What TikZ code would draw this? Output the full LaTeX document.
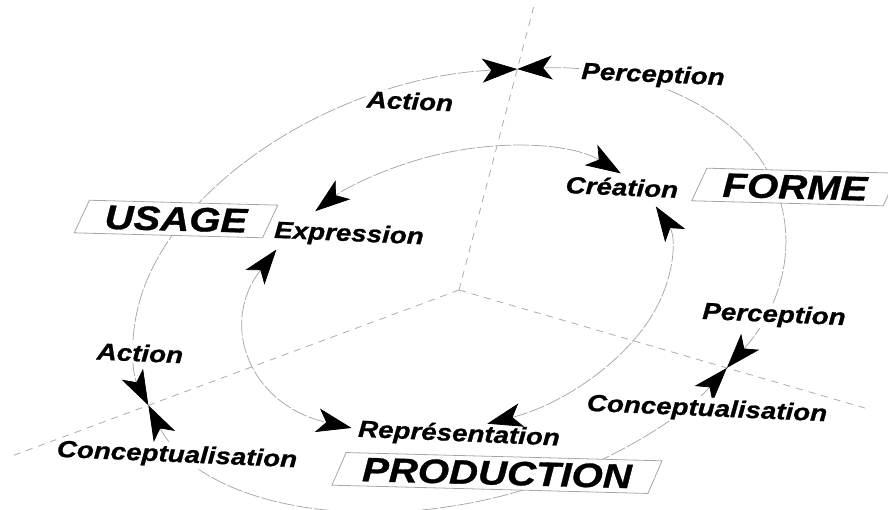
\documentclass[tikz,border=0pt]{standalone}
\usepackage{fontspec}
\newfontfamily\labfont[FakeStretch=1.18, FakeBold=0.9]{Liberation Sans}
\usetikzlibrary{arrows.meta,calc,shapes.geometric}
\begin{document}
\begin{tikzpicture}[x=1pt,y=1pt,
  axisline/.style={draw=gray!65, line width=0.8pt, dash pattern=on 7pt off 6pt},
  cyc/.style={draw=gray!70, line width=0.75pt, dash pattern=on 16pt off 2pt},
  tips/.style={{Stealth[length=35pt,width=24pt,inset=9pt,black]}-{Stealth[length=35pt,width=24pt,inset=9pt,black]}},
  lab/.style={font=\labfont\bfseries\itshape\fontsize{23.5}{26}\selectfont, rotate=-2.5, inner sep=1.5pt},
  labw/.style={lab, fill=white},
  bigbox/.style={shape=trapezium, trapezium left angle=64, trapezium right angle=116,
    trapezium stretches=true, draw=gray!70, line width=0.8pt, fill=white,
    font=\labfont\bfseries\itshape\fontsize{34}{38}\selectfont, rotate=-1.5,
    minimum height=33pt, inner sep=0pt}
]
\useasboundingbox (0,0) rectangle (888,510);
\coordinate (O) at (459,220);
\begin{scope}[shift={(459,220)}, rotate=15.75]
  % outer cycle crossings
  \coordinate (tc) at (69.6:333pt and 210pt);
  \coordinate (lc) at (187.3:333pt and 210pt);
  \coordinate (rc) at (-44.7:333pt and 210pt);
  % inner cycle ends
  \coordinate (e1) at (122.7:216.45pt and 136.5pt);
  \coordinate (c1) at (30:216.45pt and 136.5pt);
  \coordinate (c2) at (11.4:216.45pt and 136.5pt);
  \coordinate (r1) at (-92.4:216.45pt and 136.5pt);
  \coordinate (r2) at (-130.6:216.45pt and 136.5pt);
  \coordinate (e2) at (139.6:216.45pt and 136.5pt);
\end{scope}
% axes
\draw[axisline] (O) -- ($(O)!1.28!(tc)$);
\draw[axisline] (O) -- ($(O)!1.445!(lc)$);
\draw[axisline] (O) -- ($(O)!1.515!(rc)$);
% outer cycle
\begin{scope}[shift={(459,220)}, rotate=15.75]
  \draw[cyc,tips] (tc) arc[start angle=69.6, end angle=187.3, x radius=333pt, y radius=210pt];
  \draw[cyc,tips] (lc) arc[start angle=187.3, end angle=315.3, x radius=333pt, y radius=210pt];
  \draw[cyc,tips] (rc) arc[start angle=-44.7, end angle=69.6, x radius=333pt, y radius=210pt];
\end{scope}
% outer labels and boxes
\node[labw] (actT) at (410,409) {Action};
\node[labw] (percT) at (653,434) {Perception};
\node[labw] (actL) at (140,157) {Action};
\node[labw] (concL) at (177,54) {Conceptualisation};
\node[labw] (concR) at (707,100) {Conceptualisation};
\node[labw] (percR) at (774,194) {Perception};
\node[bigbox, minimum width=203pt] (usage) at (176,291) {USAGE};
\node[bigbox, minimum width=206pt] (forme) at (795,323) {FORME};
\node[bigbox, minimum width=330pt] (prod) at (497,37) {PRODUCTION};
% inner cycle
\begin{scope}[shift={(459,220)}, rotate=15.75]
  \draw[cyc,tips] (c1) arc[start angle=30, end angle=122.7, x radius=216.45pt, y radius=136.5pt];
  \draw[cyc,tips] (r1) arc[start angle=-92.4, end angle=11.4, x radius=216.45pt, y radius=136.5pt];
  \draw[cyc,tips] (e2) arc[start angle=139.6, end angle=229.4, x radius=216.45pt, y radius=136.5pt];
\end{scope}
\node[lab] (expr) at (349,275) {Expression};
\node[lab] (crea) at (622,323) {Création};
\node[lab] (repr) at (459,75) {Représentation};
\end{tikzpicture}
\end{document}
